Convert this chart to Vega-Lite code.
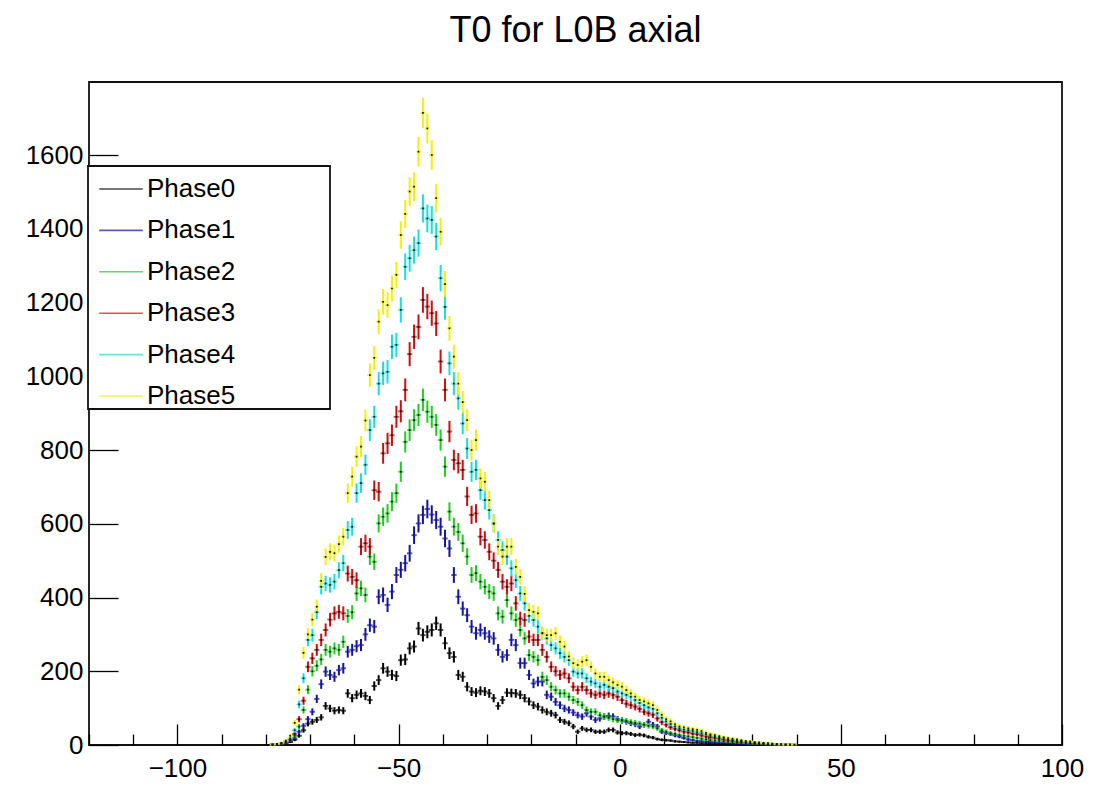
{
  "$schema": "https://vega.github.io/schema/vega-lite/v6.json",
  "autosize": {"type": "none"},
  "padding": {"left": 89, "top": 82, "right": 45, "bottom": 49},
  "width": 973,
  "height": 663,
  "background": "white",
  "title": {
    "text": "T0 for L0B axial",
    "font": "Liberation Sans",
    "fontSize": 36,
    "fontWeight": "normal",
    "color": "black",
    "anchor": "middle",
    "frame": "group",
    "baseline": "alphabetic",
    "offset": 40,
    "dy": 36
  },
  "config": {
    "view": {"stroke": "#111111", "strokeWidth": 1.8},
    "axis": {
      "domain": false,
      "grid": false,
      "tickColor": "black",
      "tickWidth": 1.3,
      "labelFont": "Liberation Sans",
      "labelFontSize": 26,
      "labelColor": "black",
      "title": null,
      "format": "d"
    },
    "legend": {
      "orient": "none",
      "legendX": -1,
      "legendY": 84,
      "title": null,
      "symbolType": "stroke",
      "symbolSize": 1900,
      "symbolStrokeWidth": 1.6,
      "labelFont": "Liberation Sans",
      "labelFontSize": 26,
      "labelColor": "black",
      "labelOffset": 3,
      "labelLimit": 400,
      "rowPadding": 5.4,
      "padding": 0,
      "symbolOffset": 10,
      "strokeColor": "#111111",
      "strokeWidth": 1.8,
      "fillColor": "white"
    }
  },
  "data": {"values": [
    {"phase":"Phase0","t":-78.5,"n":1},{"phase":"Phase0","t":-77.5,"n":2},{"phase":"Phase0","t":-76.5,"n":3},{"phase":"Phase0","t":-75.5,"n":5},{"phase":"Phase0","t":-74.5,"n":8},{"phase":"Phase0","t":-73.5,"n":14},{"phase":"Phase0","t":-72.5,"n":25},{"phase":"Phase0","t":-71.5,"n":40},{"phase":"Phase0","t":-70.5,"n":58},{"phase":"Phase0","t":-69.5,"n":63},
    {"phase":"Phase0","t":-68.5,"n":68},{"phase":"Phase0","t":-67.5,"n":75},{"phase":"Phase0","t":-66.5,"n":106},{"phase":"Phase0","t":-65.5,"n":99},{"phase":"Phase0","t":-64.5,"n":93},{"phase":"Phase0","t":-63.5,"n":95},{"phase":"Phase0","t":-62.5,"n":93},{"phase":"Phase0","t":-61.5,"n":140},{"phase":"Phase0","t":-60.5,"n":127},{"phase":"Phase0","t":-59.5,"n":136},
    {"phase":"Phase0","t":-58.5,"n":140},{"phase":"Phase0","t":-57.5,"n":133},{"phase":"Phase0","t":-56.5,"n":122},{"phase":"Phase0","t":-55.5,"n":160},{"phase":"Phase0","t":-54.5,"n":176},{"phase":"Phase0","t":-53.5,"n":208},{"phase":"Phase0","t":-52.5,"n":199},{"phase":"Phase0","t":-51.5,"n":190},{"phase":"Phase0","t":-50.5,"n":187},{"phase":"Phase0","t":-49.5,"n":230},
    {"phase":"Phase0","t":-48.5,"n":232},{"phase":"Phase0","t":-47.5,"n":262},{"phase":"Phase0","t":-46.5,"n":267},{"phase":"Phase0","t":-45.5,"n":316},{"phase":"Phase0","t":-44.5,"n":298},{"phase":"Phase0","t":-43.5,"n":307},{"phase":"Phase0","t":-42.5,"n":312},{"phase":"Phase0","t":-41.5,"n":330},{"phase":"Phase0","t":-40.5,"n":312},{"phase":"Phase0","t":-39.5,"n":276},
    {"phase":"Phase0","t":-38.5,"n":249},{"phase":"Phase0","t":-37.5,"n":239},{"phase":"Phase0","t":-36.5,"n":190},{"phase":"Phase0","t":-35.5,"n":185},{"phase":"Phase0","t":-34.5,"n":158},{"phase":"Phase0","t":-33.5,"n":145},{"phase":"Phase0","t":-32.5,"n":142},{"phase":"Phase0","t":-31.5,"n":147},{"phase":"Phase0","t":-30.5,"n":145},{"phase":"Phase0","t":-29.5,"n":140},
    {"phase":"Phase0","t":-28.5,"n":127},{"phase":"Phase0","t":-27.5,"n":106},{"phase":"Phase0","t":-26.5,"n":122},{"phase":"Phase0","t":-25.5,"n":142},{"phase":"Phase0","t":-24.5,"n":141},{"phase":"Phase0","t":-23.5,"n":140},{"phase":"Phase0","t":-22.5,"n":136},{"phase":"Phase0","t":-21.5,"n":127},{"phase":"Phase0","t":-20.5,"n":118},{"phase":"Phase0","t":-19.5,"n":108},
    {"phase":"Phase0","t":-18.5,"n":104},{"phase":"Phase0","t":-17.5,"n":95},{"phase":"Phase0","t":-16.5,"n":90},{"phase":"Phase0","t":-15.5,"n":86},{"phase":"Phase0","t":-14.5,"n":81},{"phase":"Phase0","t":-13.5,"n":68},{"phase":"Phase0","t":-12.5,"n":63},{"phase":"Phase0","t":-11.5,"n":59},{"phase":"Phase0","t":-10.5,"n":50},{"phase":"Phase0","t":-9.5,"n":36},
    {"phase":"Phase0","t":-8.5,"n":45},{"phase":"Phase0","t":-7.5,"n":41},{"phase":"Phase0","t":-6.5,"n":41},{"phase":"Phase0","t":-5.5,"n":36},{"phase":"Phase0","t":-4.5,"n":36},{"phase":"Phase0","t":-3.5,"n":36},{"phase":"Phase0","t":-2.5,"n":41},{"phase":"Phase0","t":-1.5,"n":41},{"phase":"Phase0","t":-0.5,"n":34},
    {"phase":"Phase0","t":0.5,"n":32},{"phase":"Phase0","t":1.5,"n":32},{"phase":"Phase0","t":2.5,"n":30},{"phase":"Phase0","t":3.5,"n":27},{"phase":"Phase0","t":4.5,"n":28},{"phase":"Phase0","t":5.5,"n":26},{"phase":"Phase0","t":6.5,"n":22},{"phase":"Phase0","t":7.5,"n":20},{"phase":"Phase0","t":8.5,"n":16},{"phase":"Phase0","t":9.5,"n":14},
    {"phase":"Phase0","t":10.5,"n":13},{"phase":"Phase0","t":11.5,"n":12},{"phase":"Phase0","t":12.5,"n":10},{"phase":"Phase0","t":13.5,"n":9},{"phase":"Phase0","t":14.5,"n":8},{"phase":"Phase0","t":15.5,"n":7},{"phase":"Phase0","t":16.5,"n":6},{"phase":"Phase0","t":17.5,"n":6},{"phase":"Phase0","t":18.5,"n":5},{"phase":"Phase0","t":19.5,"n":5},
    {"phase":"Phase0","t":20.5,"n":4},{"phase":"Phase0","t":21.5,"n":4},{"phase":"Phase0","t":22.5,"n":3},{"phase":"Phase0","t":23.5,"n":3},{"phase":"Phase0","t":24.5,"n":3},{"phase":"Phase0","t":25.5,"n":2},{"phase":"Phase0","t":26.5,"n":2},{"phase":"Phase0","t":27.5,"n":2},{"phase":"Phase0","t":28.5,"n":1},{"phase":"Phase0","t":29.5,"n":1},
    {"phase":"Phase0","t":30.5,"n":1},{"phase":"Phase0","t":31.5,"n":1},{"phase":"Phase0","t":32.5,"n":1},{"phase":"Phase0","t":33.5,"n":1},{"phase":"Phase0","t":39.5,"n":1},

    {"phase":"Phase1","t":-78.5,"n":1},{"phase":"Phase1","t":-77.5,"n":1},{"phase":"Phase1","t":-76.5,"n":3},{"phase":"Phase1","t":-75.5,"n":5},{"phase":"Phase1","t":-74.5,"n":9},{"phase":"Phase1","t":-73.5,"n":18},{"phase":"Phase1","t":-72.5,"n":36},{"phase":"Phase1","t":-71.5,"n":52},{"phase":"Phase1","t":-70.5,"n":70},{"phase":"Phase1","t":-69.5,"n":90},
    {"phase":"Phase1","t":-68.5,"n":125},{"phase":"Phase1","t":-67.5,"n":165},{"phase":"Phase1","t":-66.5,"n":199},{"phase":"Phase1","t":-65.5,"n":190},{"phase":"Phase1","t":-64.5,"n":185},{"phase":"Phase1","t":-63.5,"n":203},{"phase":"Phase1","t":-62.5,"n":208},{"phase":"Phase1","t":-61.5,"n":253},{"phase":"Phase1","t":-60.5,"n":258},{"phase":"Phase1","t":-59.5,"n":268},
    {"phase":"Phase1","t":-58.5,"n":271},{"phase":"Phase1","t":-57.5,"n":300},{"phase":"Phase1","t":-56.5,"n":325},{"phase":"Phase1","t":-55.5,"n":321},{"phase":"Phase1","t":-54.5,"n":402},{"phase":"Phase1","t":-53.5,"n":407},{"phase":"Phase1","t":-52.5,"n":380},{"phase":"Phase1","t":-51.5,"n":416},{"phase":"Phase1","t":-50.5,"n":461},{"phase":"Phase1","t":-49.5,"n":475},
    {"phase":"Phase1","t":-48.5,"n":493},{"phase":"Phase1","t":-47.5,"n":520},{"phase":"Phase1","t":-46.5,"n":569},{"phase":"Phase1","t":-45.5,"n":601},{"phase":"Phase1","t":-44.5,"n":624},{"phase":"Phase1","t":-43.5,"n":640},{"phase":"Phase1","t":-42.5,"n":625},{"phase":"Phase1","t":-41.5,"n":610},{"phase":"Phase1","t":-40.5,"n":592},{"phase":"Phase1","t":-39.5,"n":560},
    {"phase":"Phase1","t":-38.5,"n":533},{"phase":"Phase1","t":-37.5,"n":461},{"phase":"Phase1","t":-36.5,"n":402},{"phase":"Phase1","t":-35.5,"n":370},{"phase":"Phase1","t":-34.5,"n":352},{"phase":"Phase1","t":-33.5,"n":321},{"phase":"Phase1","t":-32.5,"n":303},{"phase":"Phase1","t":-31.5,"n":312},{"phase":"Phase1","t":-30.5,"n":303},{"phase":"Phase1","t":-29.5,"n":294},
    {"phase":"Phase1","t":-28.5,"n":289},{"phase":"Phase1","t":-27.5,"n":258},{"phase":"Phase1","t":-26.5,"n":239},{"phase":"Phase1","t":-25.5,"n":244},{"phase":"Phase1","t":-24.5,"n":285},{"phase":"Phase1","t":-23.5,"n":271},{"phase":"Phase1","t":-22.5,"n":222},{"phase":"Phase1","t":-21.5,"n":222},{"phase":"Phase1","t":-20.5,"n":190},{"phase":"Phase1","t":-19.5,"n":167},
    {"phase":"Phase1","t":-18.5,"n":172},{"phase":"Phase1","t":-17.5,"n":172},{"phase":"Phase1","t":-16.5,"n":136},{"phase":"Phase1","t":-15.5,"n":131},{"phase":"Phase1","t":-14.5,"n":117},{"phase":"Phase1","t":-13.5,"n":108},{"phase":"Phase1","t":-12.5,"n":99},{"phase":"Phase1","t":-11.5,"n":95},{"phase":"Phase1","t":-10.5,"n":88},{"phase":"Phase1","t":-9.5,"n":81},
    {"phase":"Phase1","t":-8.5,"n":77},{"phase":"Phase1","t":-7.5,"n":86},{"phase":"Phase1","t":-6.5,"n":77},{"phase":"Phase1","t":-5.5,"n":68},{"phase":"Phase1","t":-4.5,"n":72},{"phase":"Phase1","t":-3.5,"n":77},{"phase":"Phase1","t":-2.5,"n":79},{"phase":"Phase1","t":-1.5,"n":77},{"phase":"Phase1","t":-0.5,"n":70},
    {"phase":"Phase1","t":0.5,"n":66},{"phase":"Phase1","t":1.5,"n":63},{"phase":"Phase1","t":2.5,"n":59},{"phase":"Phase1","t":3.5,"n":56},{"phase":"Phase1","t":4.5,"n":50},{"phase":"Phase1","t":5.5,"n":55},{"phase":"Phase1","t":6.5,"n":63},{"phase":"Phase1","t":7.5,"n":55},{"phase":"Phase1","t":8.5,"n":50},{"phase":"Phase1","t":9.5,"n":36},
    {"phase":"Phase1","t":10.5,"n":33},{"phase":"Phase1","t":11.5,"n":30},{"phase":"Phase1","t":12.5,"n":26},{"phase":"Phase1","t":13.5,"n":23},{"phase":"Phase1","t":14.5,"n":19},{"phase":"Phase1","t":15.5,"n":15},{"phase":"Phase1","t":16.5,"n":13},{"phase":"Phase1","t":17.5,"n":11},{"phase":"Phase1","t":18.5,"n":10},{"phase":"Phase1","t":19.5,"n":9},
    {"phase":"Phase1","t":20.5,"n":8},{"phase":"Phase1","t":21.5,"n":7},{"phase":"Phase1","t":22.5,"n":6},{"phase":"Phase1","t":23.5,"n":6},{"phase":"Phase1","t":24.5,"n":5},{"phase":"Phase1","t":25.5,"n":4},{"phase":"Phase1","t":26.5,"n":4},{"phase":"Phase1","t":27.5,"n":3},{"phase":"Phase1","t":28.5,"n":3},{"phase":"Phase1","t":29.5,"n":2},
    {"phase":"Phase1","t":30.5,"n":2},{"phase":"Phase1","t":31.5,"n":2},{"phase":"Phase1","t":32.5,"n":1},{"phase":"Phase1","t":33.5,"n":1},{"phase":"Phase1","t":34.5,"n":1},{"phase":"Phase1","t":35.5,"n":1},

    {"phase":"Phase2","t":-78.5,"n":1},{"phase":"Phase2","t":-77.5,"n":2},{"phase":"Phase2","t":-76.5,"n":4},{"phase":"Phase2","t":-75.5,"n":7},{"phase":"Phase2","t":-74.5,"n":13},{"phase":"Phase2","t":-73.5,"n":25},{"phase":"Phase2","t":-72.5,"n":50},{"phase":"Phase2","t":-71.5,"n":95},{"phase":"Phase2","t":-70.5,"n":150},{"phase":"Phase2","t":-69.5,"n":200},
    {"phase":"Phase2","t":-68.5,"n":215},{"phase":"Phase2","t":-67.5,"n":232},{"phase":"Phase2","t":-66.5,"n":258},{"phase":"Phase2","t":-65.5,"n":253},{"phase":"Phase2","t":-64.5,"n":262},{"phase":"Phase2","t":-63.5,"n":258},{"phase":"Phase2","t":-62.5,"n":280},{"phase":"Phase2","t":-61.5,"n":350},{"phase":"Phase2","t":-60.5,"n":360},{"phase":"Phase2","t":-59.5,"n":411},
    {"phase":"Phase2","t":-58.5,"n":425},{"phase":"Phase2","t":-57.5,"n":407},{"phase":"Phase2","t":-56.5,"n":511},{"phase":"Phase2","t":-55.5,"n":497},{"phase":"Phase2","t":-54.5,"n":601},{"phase":"Phase2","t":-53.5,"n":619},{"phase":"Phase2","t":-52.5,"n":628},{"phase":"Phase2","t":-51.5,"n":660},{"phase":"Phase2","t":-50.5,"n":683},{"phase":"Phase2","t":-49.5,"n":741},
    {"phase":"Phase2","t":-48.5,"n":822},{"phase":"Phase2","t":-47.5,"n":854},{"phase":"Phase2","t":-46.5,"n":881},{"phase":"Phase2","t":-45.5,"n":895},{"phase":"Phase2","t":-44.5,"n":936},{"phase":"Phase2","t":-43.5,"n":904},{"phase":"Phase2","t":-42.5,"n":890},{"phase":"Phase2","t":-41.5,"n":868},{"phase":"Phase2","t":-40.5,"n":827},{"phase":"Phase2","t":-39.5,"n":755},
    {"phase":"Phase2","t":-38.5,"n":633},{"phase":"Phase2","t":-37.5,"n":592},{"phase":"Phase2","t":-36.5,"n":578},{"phase":"Phase2","t":-35.5,"n":547},{"phase":"Phase2","t":-34.5,"n":511},{"phase":"Phase2","t":-33.5,"n":461},{"phase":"Phase2","t":-32.5,"n":466},{"phase":"Phase2","t":-31.5,"n":443},{"phase":"Phase2","t":-30.5,"n":429},{"phase":"Phase2","t":-29.5,"n":416},
    {"phase":"Phase2","t":-28.5,"n":411},{"phase":"Phase2","t":-27.5,"n":357},{"phase":"Phase2","t":-26.5,"n":348},{"phase":"Phase2","t":-25.5,"n":393},{"phase":"Phase2","t":-24.5,"n":357},{"phase":"Phase2","t":-23.5,"n":339},{"phase":"Phase2","t":-22.5,"n":312},{"phase":"Phase2","t":-21.5,"n":289},{"phase":"Phase2","t":-20.5,"n":244},{"phase":"Phase2","t":-19.5,"n":239},
    {"phase":"Phase2","t":-18.5,"n":230},{"phase":"Phase2","t":-17.5,"n":185},{"phase":"Phase2","t":-16.5,"n":176},{"phase":"Phase2","t":-15.5,"n":158},{"phase":"Phase2","t":-14.5,"n":149},{"phase":"Phase2","t":-13.5,"n":140},{"phase":"Phase2","t":-12.5,"n":140},{"phase":"Phase2","t":-11.5,"n":131},{"phase":"Phase2","t":-10.5,"n":122},{"phase":"Phase2","t":-9.5,"n":117},
    {"phase":"Phase2","t":-8.5,"n":108},{"phase":"Phase2","t":-7.5,"n":95},{"phase":"Phase2","t":-6.5,"n":90},{"phase":"Phase2","t":-5.5,"n":90},{"phase":"Phase2","t":-4.5,"n":81},{"phase":"Phase2","t":-3.5,"n":77},{"phase":"Phase2","t":-2.5,"n":74},{"phase":"Phase2","t":-1.5,"n":70},{"phase":"Phase2","t":-0.5,"n":68},
    {"phase":"Phase2","t":0.5,"n":68},{"phase":"Phase2","t":1.5,"n":65},{"phase":"Phase2","t":2.5,"n":62},{"phase":"Phase2","t":3.5,"n":60},{"phase":"Phase2","t":4.5,"n":58},{"phase":"Phase2","t":5.5,"n":55},{"phase":"Phase2","t":6.5,"n":52},{"phase":"Phase2","t":7.5,"n":50},{"phase":"Phase2","t":8.5,"n":45},{"phase":"Phase2","t":9.5,"n":40},
    {"phase":"Phase2","t":10.5,"n":36},{"phase":"Phase2","t":11.5,"n":32},{"phase":"Phase2","t":12.5,"n":30},{"phase":"Phase2","t":13.5,"n":27},{"phase":"Phase2","t":14.5,"n":25},{"phase":"Phase2","t":15.5,"n":23},{"phase":"Phase2","t":16.5,"n":21},{"phase":"Phase2","t":17.5,"n":19},{"phase":"Phase2","t":18.5,"n":17},{"phase":"Phase2","t":19.5,"n":15},
    {"phase":"Phase2","t":20.5,"n":13},{"phase":"Phase2","t":21.5,"n":12},{"phase":"Phase2","t":22.5,"n":11},{"phase":"Phase2","t":23.5,"n":10},{"phase":"Phase2","t":24.5,"n":9},{"phase":"Phase2","t":25.5,"n":8},{"phase":"Phase2","t":26.5,"n":7},{"phase":"Phase2","t":27.5,"n":6},{"phase":"Phase2","t":28.5,"n":5},{"phase":"Phase2","t":29.5,"n":4},
    {"phase":"Phase2","t":30.5,"n":4},{"phase":"Phase2","t":31.5,"n":3},{"phase":"Phase2","t":32.5,"n":3},{"phase":"Phase2","t":33.5,"n":2},{"phase":"Phase2","t":34.5,"n":2},{"phase":"Phase2","t":35.5,"n":1},{"phase":"Phase2","t":36.5,"n":1},{"phase":"Phase2","t":37.5,"n":1},

    {"phase":"Phase3","t":-78.5,"n":1},{"phase":"Phase3","t":-77.5,"n":2},{"phase":"Phase3","t":-76.5,"n":4},{"phase":"Phase3","t":-75.5,"n":8},{"phase":"Phase3","t":-74.5,"n":14},{"phase":"Phase3","t":-73.5,"n":30},{"phase":"Phase3","t":-72.5,"n":70},{"phase":"Phase3","t":-71.5,"n":120},{"phase":"Phase3","t":-70.5,"n":212},{"phase":"Phase3","t":-69.5,"n":235},
    {"phase":"Phase3","t":-68.5,"n":258},{"phase":"Phase3","t":-67.5,"n":285},{"phase":"Phase3","t":-66.5,"n":312},{"phase":"Phase3","t":-65.5,"n":340},{"phase":"Phase3","t":-64.5,"n":357},{"phase":"Phase3","t":-63.5,"n":361},{"phase":"Phase3","t":-62.5,"n":357},{"phase":"Phase3","t":-61.5,"n":465},{"phase":"Phase3","t":-60.5,"n":456},{"phase":"Phase3","t":-59.5,"n":447},
    {"phase":"Phase3","t":-58.5,"n":538},{"phase":"Phase3","t":-57.5,"n":547},{"phase":"Phase3","t":-56.5,"n":538},{"phase":"Phase3","t":-55.5,"n":691},{"phase":"Phase3","t":-54.5,"n":687},{"phase":"Phase3","t":-53.5,"n":791},{"phase":"Phase3","t":-52.5,"n":818},{"phase":"Phase3","t":-51.5,"n":840},{"phase":"Phase3","t":-50.5,"n":890},{"phase":"Phase3","t":-49.5,"n":905},
    {"phase":"Phase3","t":-48.5,"n":963},{"phase":"Phase3","t":-47.5,"n":1060},{"phase":"Phase3","t":-46.5,"n":1107},{"phase":"Phase3","t":-45.5,"n":1134},{"phase":"Phase3","t":-44.5,"n":1207},{"phase":"Phase3","t":-43.5,"n":1189},{"phase":"Phase3","t":-42.5,"n":1171},{"phase":"Phase3","t":-41.5,"n":1143},{"phase":"Phase3","t":-40.5,"n":1040},{"phase":"Phase3","t":-39.5,"n":963},
    {"phase":"Phase3","t":-38.5,"n":850},{"phase":"Phase3","t":-37.5,"n":773},{"phase":"Phase3","t":-36.5,"n":764},{"phase":"Phase3","t":-35.5,"n":746},{"phase":"Phase3","t":-34.5,"n":674},{"phase":"Phase3","t":-33.5,"n":624},{"phase":"Phase3","t":-32.5,"n":628},{"phase":"Phase3","t":-31.5,"n":565},{"phase":"Phase3","t":-30.5,"n":556},{"phase":"Phase3","t":-29.5,"n":524},
    {"phase":"Phase3","t":-28.5,"n":500},{"phase":"Phase3","t":-27.5,"n":475},{"phase":"Phase3","t":-26.5,"n":443},{"phase":"Phase3","t":-25.5,"n":429},{"phase":"Phase3","t":-24.5,"n":438},{"phase":"Phase3","t":-23.5,"n":384},{"phase":"Phase3","t":-22.5,"n":343},{"phase":"Phase3","t":-21.5,"n":339},{"phase":"Phase3","t":-20.5,"n":294},{"phase":"Phase3","t":-19.5,"n":285},
    {"phase":"Phase3","t":-18.5,"n":285},{"phase":"Phase3","t":-17.5,"n":258},{"phase":"Phase3","t":-16.5,"n":239},{"phase":"Phase3","t":-15.5,"n":212},{"phase":"Phase3","t":-14.5,"n":200},{"phase":"Phase3","t":-13.5,"n":190},{"phase":"Phase3","t":-12.5,"n":194},{"phase":"Phase3","t":-11.5,"n":181},{"phase":"Phase3","t":-10.5,"n":158},{"phase":"Phase3","t":-9.5,"n":149},
    {"phase":"Phase3","t":-8.5,"n":158},{"phase":"Phase3","t":-7.5,"n":149},{"phase":"Phase3","t":-6.5,"n":140},{"phase":"Phase3","t":-5.5,"n":136},{"phase":"Phase3","t":-4.5,"n":140},{"phase":"Phase3","t":-3.5,"n":136},{"phase":"Phase3","t":-2.5,"n":140},{"phase":"Phase3","t":-1.5,"n":136},{"phase":"Phase3","t":-0.5,"n":131},
    {"phase":"Phase3","t":0.5,"n":122},{"phase":"Phase3","t":1.5,"n":112},{"phase":"Phase3","t":2.5,"n":108},{"phase":"Phase3","t":3.5,"n":104},{"phase":"Phase3","t":4.5,"n":98},{"phase":"Phase3","t":5.5,"n":90},{"phase":"Phase3","t":6.5,"n":86},{"phase":"Phase3","t":7.5,"n":82},{"phase":"Phase3","t":8.5,"n":72},{"phase":"Phase3","t":9.5,"n":62},
    {"phase":"Phase3","t":10.5,"n":55},{"phase":"Phase3","t":11.5,"n":48},{"phase":"Phase3","t":12.5,"n":44},{"phase":"Phase3","t":13.5,"n":40},{"phase":"Phase3","t":14.5,"n":36},{"phase":"Phase3","t":15.5,"n":34},{"phase":"Phase3","t":16.5,"n":31},{"phase":"Phase3","t":17.5,"n":29},{"phase":"Phase3","t":18.5,"n":26},{"phase":"Phase3","t":19.5,"n":23},
    {"phase":"Phase3","t":20.5,"n":21},{"phase":"Phase3","t":21.5,"n":19},{"phase":"Phase3","t":22.5,"n":17},{"phase":"Phase3","t":23.5,"n":15},{"phase":"Phase3","t":24.5,"n":13},{"phase":"Phase3","t":25.5,"n":12},{"phase":"Phase3","t":26.5,"n":10},{"phase":"Phase3","t":27.5,"n":9},{"phase":"Phase3","t":28.5,"n":8},{"phase":"Phase3","t":29.5,"n":6},
    {"phase":"Phase3","t":30.5,"n":5},{"phase":"Phase3","t":31.5,"n":4},{"phase":"Phase3","t":32.5,"n":4},{"phase":"Phase3","t":33.5,"n":3},{"phase":"Phase3","t":34.5,"n":2},{"phase":"Phase3","t":35.5,"n":2},{"phase":"Phase3","t":36.5,"n":1},{"phase":"Phase3","t":37.5,"n":1},{"phase":"Phase3","t":38.5,"n":1},

    {"phase":"Phase4","t":-78.5,"n":1},{"phase":"Phase4","t":-77.5,"n":3},{"phase":"Phase4","t":-76.5,"n":5},{"phase":"Phase4","t":-75.5,"n":10},{"phase":"Phase4","t":-74.5,"n":18},{"phase":"Phase4","t":-73.5,"n":40},{"phase":"Phase4","t":-72.5,"n":110},{"phase":"Phase4","t":-71.5,"n":181},{"phase":"Phase4","t":-70.5,"n":285},{"phase":"Phase4","t":-69.5,"n":298},
    {"phase":"Phase4","t":-68.5,"n":360},{"phase":"Phase4","t":-67.5,"n":429},{"phase":"Phase4","t":-66.5,"n":438},{"phase":"Phase4","t":-65.5,"n":434},{"phase":"Phase4","t":-64.5,"n":443},{"phase":"Phase4","t":-63.5,"n":474},{"phase":"Phase4","t":-62.5,"n":493},{"phase":"Phase4","t":-61.5,"n":583},{"phase":"Phase4","t":-60.5,"n":592},{"phase":"Phase4","t":-59.5,"n":683},
    {"phase":"Phase4","t":-58.5,"n":710},{"phase":"Phase4","t":-57.5,"n":760},{"phase":"Phase4","t":-56.5,"n":854},{"phase":"Phase4","t":-55.5,"n":890},{"phase":"Phase4","t":-54.5,"n":980},{"phase":"Phase4","t":-53.5,"n":1008},{"phase":"Phase4","t":-52.5,"n":1012},{"phase":"Phase4","t":-51.5,"n":1080},{"phase":"Phase4","t":-50.5,"n":1085},{"phase":"Phase4","t":-49.5,"n":1180},
    {"phase":"Phase4","t":-48.5,"n":1297},{"phase":"Phase4","t":-47.5,"n":1320},{"phase":"Phase4","t":-46.5,"n":1342},{"phase":"Phase4","t":-45.5,"n":1361},{"phase":"Phase4","t":-44.5,"n":1455},{"phase":"Phase4","t":-43.5,"n":1428},{"phase":"Phase4","t":-42.5,"n":1424},{"phase":"Phase4","t":-41.5,"n":1379},{"phase":"Phase4","t":-40.5,"n":1266},{"phase":"Phase4","t":-39.5,"n":1188},
    {"phase":"Phase4","t":-38.5,"n":1035},{"phase":"Phase4","t":-37.5,"n":980},{"phase":"Phase4","t":-36.5,"n":940},{"phase":"Phase4","t":-35.5,"n":872},{"phase":"Phase4","t":-34.5,"n":804},{"phase":"Phase4","t":-33.5,"n":741},{"phase":"Phase4","t":-32.5,"n":746},{"phase":"Phase4","t":-31.5,"n":691},{"phase":"Phase4","t":-30.5,"n":664},{"phase":"Phase4","t":-29.5,"n":637},
    {"phase":"Phase4","t":-28.5,"n":601},{"phase":"Phase4","t":-27.5,"n":556},{"phase":"Phase4","t":-26.5,"n":529},{"phase":"Phase4","t":-25.5,"n":511},{"phase":"Phase4","t":-24.5,"n":479},{"phase":"Phase4","t":-23.5,"n":447},{"phase":"Phase4","t":-22.5,"n":411},{"phase":"Phase4","t":-21.5,"n":384},{"phase":"Phase4","t":-20.5,"n":350},{"phase":"Phase4","t":-19.5,"n":339},
    {"phase":"Phase4","t":-18.5,"n":321},{"phase":"Phase4","t":-17.5,"n":303},{"phase":"Phase4","t":-16.5,"n":289},{"phase":"Phase4","t":-15.5,"n":271},{"phase":"Phase4","t":-14.5,"n":262},{"phase":"Phase4","t":-13.5,"n":249},{"phase":"Phase4","t":-12.5,"n":239},{"phase":"Phase4","t":-11.5,"n":230},{"phase":"Phase4","t":-10.5,"n":199},{"phase":"Phase4","t":-9.5,"n":194},
    {"phase":"Phase4","t":-8.5,"n":194},{"phase":"Phase4","t":-7.5,"n":181},{"phase":"Phase4","t":-6.5,"n":172},{"phase":"Phase4","t":-5.5,"n":167},{"phase":"Phase4","t":-4.5,"n":158},{"phase":"Phase4","t":-3.5,"n":163},{"phase":"Phase4","t":-2.5,"n":158},{"phase":"Phase4","t":-1.5,"n":154},{"phase":"Phase4","t":-0.5,"n":145},
    {"phase":"Phase4","t":0.5,"n":140},{"phase":"Phase4","t":1.5,"n":136},{"phase":"Phase4","t":2.5,"n":131},{"phase":"Phase4","t":3.5,"n":122},{"phase":"Phase4","t":4.5,"n":114},{"phase":"Phase4","t":5.5,"n":108},{"phase":"Phase4","t":6.5,"n":102},{"phase":"Phase4","t":7.5,"n":98},{"phase":"Phase4","t":8.5,"n":86},{"phase":"Phase4","t":9.5,"n":74},
    {"phase":"Phase4","t":10.5,"n":64},{"phase":"Phase4","t":11.5,"n":57},{"phase":"Phase4","t":12.5,"n":50},{"phase":"Phase4","t":13.5,"n":45},{"phase":"Phase4","t":14.5,"n":42},{"phase":"Phase4","t":15.5,"n":40},{"phase":"Phase4","t":16.5,"n":38},{"phase":"Phase4","t":17.5,"n":35},{"phase":"Phase4","t":18.5,"n":32},{"phase":"Phase4","t":19.5,"n":29},
    {"phase":"Phase4","t":20.5,"n":26},{"phase":"Phase4","t":21.5,"n":23},{"phase":"Phase4","t":22.5,"n":21},{"phase":"Phase4","t":23.5,"n":19},{"phase":"Phase4","t":24.5,"n":16},{"phase":"Phase4","t":25.5,"n":14},{"phase":"Phase4","t":26.5,"n":12},{"phase":"Phase4","t":27.5,"n":11},{"phase":"Phase4","t":28.5,"n":9},{"phase":"Phase4","t":29.5,"n":8},
    {"phase":"Phase4","t":30.5,"n":7},{"phase":"Phase4","t":31.5,"n":6},{"phase":"Phase4","t":32.5,"n":5},{"phase":"Phase4","t":33.5,"n":4},{"phase":"Phase4","t":34.5,"n":3},{"phase":"Phase4","t":35.5,"n":2},{"phase":"Phase4","t":36.5,"n":2},{"phase":"Phase4","t":37.5,"n":1},{"phase":"Phase4","t":38.5,"n":1},

    {"phase":"Phase5","t":-78.5,"n":1},{"phase":"Phase5","t":-77.5,"n":3},{"phase":"Phase5","t":-76.5,"n":6},{"phase":"Phase5","t":-75.5,"n":12},{"phase":"Phase5","t":-74.5,"n":25},{"phase":"Phase5","t":-73.5,"n":60},{"phase":"Phase5","t":-72.5,"n":150},{"phase":"Phase5","t":-71.5,"n":250},{"phase":"Phase5","t":-70.5,"n":300},{"phase":"Phase5","t":-69.5,"n":340},
    {"phase":"Phase5","t":-68.5,"n":375},{"phase":"Phase5","t":-67.5,"n":445},{"phase":"Phase5","t":-66.5,"n":510},{"phase":"Phase5","t":-65.5,"n":524},{"phase":"Phase5","t":-64.5,"n":520},{"phase":"Phase5","t":-63.5,"n":545},{"phase":"Phase5","t":-62.5,"n":565},{"phase":"Phase5","t":-61.5,"n":683},{"phase":"Phase5","t":-60.5,"n":728},{"phase":"Phase5","t":-59.5,"n":782},
    {"phase":"Phase5","t":-58.5,"n":809},{"phase":"Phase5","t":-57.5,"n":880},{"phase":"Phase5","t":-56.5,"n":1003},{"phase":"Phase5","t":-55.5,"n":1050},{"phase":"Phase5","t":-54.5,"n":1148},{"phase":"Phase5","t":-53.5,"n":1202},{"phase":"Phase5","t":-52.5,"n":1193},{"phase":"Phase5","t":-51.5,"n":1238},{"phase":"Phase5","t":-50.5,"n":1275},{"phase":"Phase5","t":-49.5,"n":1383},
    {"phase":"Phase5","t":-48.5,"n":1440},{"phase":"Phase5","t":-47.5,"n":1501},{"phase":"Phase5","t":-46.5,"n":1514},{"phase":"Phase5","t":-45.5,"n":1609},{"phase":"Phase5","t":-44.5,"n":1714},{"phase":"Phase5","t":-43.5,"n":1672},{"phase":"Phase5","t":-42.5,"n":1600},{"phase":"Phase5","t":-41.5,"n":1483},{"phase":"Phase5","t":-40.5,"n":1392},{"phase":"Phase5","t":-39.5,"n":1250},
    {"phase":"Phase5","t":-38.5,"n":1130},{"phase":"Phase5","t":-37.5,"n":1053},{"phase":"Phase5","t":-36.5,"n":980},{"phase":"Phase5","t":-35.5,"n":930},{"phase":"Phase5","t":-34.5,"n":881},{"phase":"Phase5","t":-33.5,"n":800},{"phase":"Phase5","t":-32.5,"n":827},{"phase":"Phase5","t":-31.5,"n":723},{"phase":"Phase5","t":-30.5,"n":714},{"phase":"Phase5","t":-29.5,"n":664},
    {"phase":"Phase5","t":-28.5,"n":600},{"phase":"Phase5","t":-27.5,"n":538},{"phase":"Phase5","t":-26.5,"n":511},{"phase":"Phase5","t":-25.5,"n":538},{"phase":"Phase5","t":-24.5,"n":538},{"phase":"Phase5","t":-23.5,"n":483},{"phase":"Phase5","t":-22.5,"n":456},{"phase":"Phase5","t":-21.5,"n":410},{"phase":"Phase5","t":-20.5,"n":366},{"phase":"Phase5","t":-19.5,"n":361},
    {"phase":"Phase5","t":-18.5,"n":357},{"phase":"Phase5","t":-17.5,"n":303},{"phase":"Phase5","t":-16.5,"n":298},{"phase":"Phase5","t":-15.5,"n":298},{"phase":"Phase5","t":-14.5,"n":303},{"phase":"Phase5","t":-13.5,"n":280},{"phase":"Phase5","t":-12.5,"n":267},{"phase":"Phase5","t":-11.5,"n":240},{"phase":"Phase5","t":-10.5,"n":222},{"phase":"Phase5","t":-9.5,"n":217},
    {"phase":"Phase5","t":-8.5,"n":226},{"phase":"Phase5","t":-7.5,"n":230},{"phase":"Phase5","t":-6.5,"n":212},{"phase":"Phase5","t":-5.5,"n":194},{"phase":"Phase5","t":-4.5,"n":185},{"phase":"Phase5","t":-3.5,"n":185},{"phase":"Phase5","t":-2.5,"n":176},{"phase":"Phase5","t":-1.5,"n":170},{"phase":"Phase5","t":-0.5,"n":163},
    {"phase":"Phase5","t":0.5,"n":158},{"phase":"Phase5","t":1.5,"n":149},{"phase":"Phase5","t":2.5,"n":140},{"phase":"Phase5","t":3.5,"n":131},{"phase":"Phase5","t":4.5,"n":122},{"phase":"Phase5","t":5.5,"n":118},{"phase":"Phase5","t":6.5,"n":113},{"phase":"Phase5","t":7.5,"n":108},{"phase":"Phase5","t":8.5,"n":95},{"phase":"Phase5","t":9.5,"n":82},
    {"phase":"Phase5","t":10.5,"n":70},{"phase":"Phase5","t":11.5,"n":64},{"phase":"Phase5","t":12.5,"n":56},{"phase":"Phase5","t":13.5,"n":50},{"phase":"Phase5","t":14.5,"n":48},{"phase":"Phase5","t":15.5,"n":45},{"phase":"Phase5","t":16.5,"n":43},{"phase":"Phase5","t":17.5,"n":41},{"phase":"Phase5","t":18.5,"n":38},{"phase":"Phase5","t":19.5,"n":33},
    {"phase":"Phase5","t":20.5,"n":29},{"phase":"Phase5","t":21.5,"n":27},{"phase":"Phase5","t":22.5,"n":24},{"phase":"Phase5","t":23.5,"n":21},{"phase":"Phase5","t":24.5,"n":19},{"phase":"Phase5","t":25.5,"n":17},{"phase":"Phase5","t":26.5,"n":15},{"phase":"Phase5","t":27.5,"n":13},{"phase":"Phase5","t":28.5,"n":11},{"phase":"Phase5","t":29.5,"n":10},
    {"phase":"Phase5","t":30.5,"n":8},{"phase":"Phase5","t":31.5,"n":7},{"phase":"Phase5","t":32.5,"n":6},{"phase":"Phase5","t":33.5,"n":5},{"phase":"Phase5","t":34.5,"n":4},{"phase":"Phase5","t":35.5,"n":3},{"phase":"Phase5","t":36.5,"n":2},{"phase":"Phase5","t":37.5,"n":1},{"phase":"Phase5","t":38.5,"n":1},{"phase":"Phase5","t":39.5,"n":1}
  ]},
  "transform": [
    {"calculate": "datum.n - sqrt(datum.n)", "as": "lo"},
    {"calculate": "datum.n + sqrt(datum.n)", "as": "hi"}
  ],
  "encoding": {
    "x": {
      "field": "t",
      "type": "quantitative",
      "scale": {"domain": [-120, 100], "nice": false, "zero": false},
      "axis": {
        "orient": "bottom",
        "values": [-120,-110,-100,-90,-80,-70,-60,-50,-40,-30,-20,-10,0,10,20,30,40,50,60,70,80,90,100],
        "labelExpr": "datum.value % 50 === 0 ? datum.label : ''",
        "tickSize": {"condition": {"test": "datum.value % 50 === 0", "value": -21}, "value": -11},
        "labelPadding": 31,
        "labelFlush": false,
        "labelOverlap": false
      }
    },
    "color": {
      "field": "phase",
      "type": "nominal",
      "scale": {
        "domain": ["Phase0","Phase1","Phase2","Phase3","Phase4","Phase5"],
        "range": ["#000000","#1414a0","#22cc22","#cc1010","#18dede","#f2f200"]
      },
      "legend": {
        "labelExpr": "datum.label + '             \u200b'"
      }
    }
  },
  "layer": [
    {
      "mark": {"type": "rule", "strokeWidth": 2},
      "encoding": {
        "y": {
          "field": "lo",
          "type": "quantitative",
          "scale": {"domain": [0, 1798], "nice": false},
          "axis": {
            "orient": "left",
            "values": [0,50,100,150,200,250,300,350,400,450,500,550,600,650,700,750,800,850,900,950,1000,1050,1100,1150,1200,1250,1300,1350,1400,1450,1500,1550,1600,1650,1700,1750],
            "labelExpr": "datum.value % 200 === 0 ? datum.label : ''",
            "tickSize": {"condition": {"test": "datum.value % 200 === 0", "value": -29}, "value": -15},
            "labelPadding": 35,
            "labelFlush": false,
            "labelOverlap": false
          }
        },
        "y2": {"field": "hi"}
      }
    },
    {
      "mark": {"type": "tick", "orient": "horizontal", "size": 5.4, "thickness": 1.9},
      "encoding": {"y": {"field": "n", "type": "quantitative"}}
    },
    {
      "transform": [{"filter": "datum.phase !== 'Phase0' && datum.phase !== 'Phase1'"}],
      "mark": {"type": "square", "size": 3, "filled": true, "opacity": 1},
      "encoding": {
        "y": {"field": "n", "type": "quantitative"},
        "color": {"value": "#111111"}
      }
    }
  ]
}
